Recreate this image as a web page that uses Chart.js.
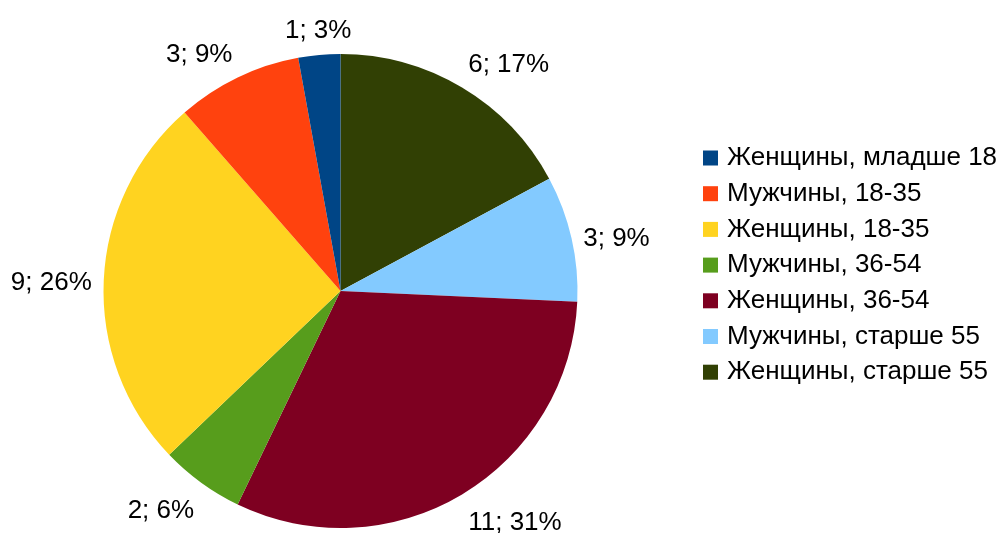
<!DOCTYPE html>
<html>
<head>
<meta charset="utf-8">
<script src="https://cdn.jsdelivr.net/npm/chart.js@4.4.1/dist/chart.umd.min.js"></script>
<style>
  body { margin: 0; background: #fff; }
  #wrap { width: 999px; height: 533px; }
</style>
</head>
<body>
<div id="wrap"><canvas id="pieChart"></canvas></div>
<script>
// legend order (top to bottom)
var groups = ['Женщины, младше 18', 'Мужчины, 18-35', 'Женщины, 18-35', 'Мужчины, 36-54',
              'Женщины, 36-54', 'Мужчины, старше 55', 'Женщины, старше 55'];
var counts = [1, 3, 9, 2, 11, 3, 6];
var colors = ['#004586', '#ff420e', '#ffd320', '#579d1c', '#7e0021', '#83caff', '#314004'];

var FONT = '"Liberation Sans", Arial, sans-serif';
Chart.defaults.font.family = FONT;
Chart.defaults.color = '#000';

// slices go clockwise from the top in reverse legend order
var pieLabels = groups.slice().reverse();
var pieData = counts.slice().reverse();
var pieColors = colors.slice().reverse();

// value; percent labels just outside each slice
var sliceLabels = {
    id: 'sliceLabels',
    afterDatasetsDraw: function(chart) {
        var ctx = chart.ctx;
        var meta = chart.getDatasetMeta(0);
        var data = chart.data.datasets[0].data;
        var total = data.reduce(function(a, b) { return a + b; }, 0);
        ctx.save();
        ctx.font = '26px ' + FONT;
        ctx.fillStyle = '#000';
        meta.data.forEach(function(arc, i) {
            var p = arc.getProps(['x', 'y', 'startAngle', 'endAngle', 'outerRadius'], true);
            var mid = (p.startAngle + p.endAngle) / 2;
            var r = p.outerRadius + 12;
            var dx = Math.cos(mid), dy = Math.sin(mid);
            ctx.textAlign = dx > 0.38 ? 'left' : dx < -0.38 ? 'right' : 'center';
            ctx.textBaseline = dy < -0.38 ? 'bottom' : dy > 0.38 ? 'top' : 'middle';
            var yOff = dy > 0.38 ? 5 : dy < -0.38 ? 1 : 3;
            var pct = Math.round(data[i] / total * 100);
            ctx.fillText(data[i] + '; ' + pct + '%', p.x + dx * r, p.y + dy * r + yOff);
        });
        ctx.restore();
    }
};

// legend on the right, items come from the pie's own generateLabels
var sideLegend = {
    id: 'sideLegend',
    afterDraw: function(chart) {
        var ctx = chart.ctx;
        var items = Chart.controllers.pie.overrides.plugins.legend.labels.generateLabels(chart).reverse();
        ctx.save();
        ctx.font = '26px ' + FONT;
        ctx.textAlign = 'left';
        ctx.textBaseline = 'middle';
        items.forEach(function(item, k) {
            var y = 158 + k * 35.7;
            ctx.fillStyle = item.fillStyle;
            ctx.fillRect(703, y - 7.5, 15, 15);
            ctx.fillStyle = '#000';
            ctx.fillText(item.text, 727, y);
        });
        ctx.restore();
    }
};

var ctx = document.getElementById('pieChart').getContext('2d');
var pieChart = new Chart(ctx, {
    type: 'pie',
    data: {
        labels: pieLabels,
        datasets: [{
            data: pieData,
            backgroundColor: pieColors,
            borderWidth: 0,
            clip: false
        }]
    },
    options: {
        responsive: true,
        maintainAspectRatio: false,
        animation: false,
        events: [],
        radius: 237,
        layout: {
            padding: { left: 0, right: 318, top: 54, bottom: 5 }
        },
        plugins: {
            tooltip: { enabled: false },
            legend: { display: false }
        }
    },
    plugins: [sliceLabels, sideLegend]
});
</script>
</body>
</html>
